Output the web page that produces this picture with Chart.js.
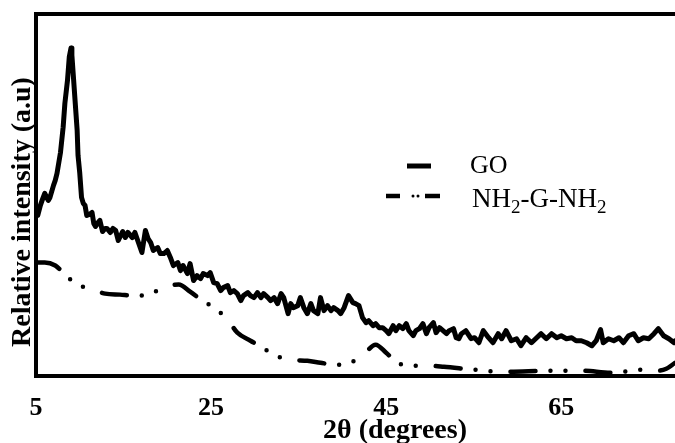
<!DOCTYPE html>
<html>
<head>
<meta charset="utf-8">
<script src="https://cdn.jsdelivr.net/npm/chart.js@4.4.1/dist/chart.umd.min.js"></script>
<style>
html,body{margin:0;padding:0;background:#fff;}
canvas{display:block;}
</style>
</head>
<body>
<canvas id="xrd" width="675" height="443"></canvas>
<script>
// axis text and series names
const xTicks = [5, 25, 45, 65];
const xTitle = '2θ (degrees)';
const yTitle = 'Relative intensity (a.u)';
const seriesNames = ['GO', 'NH₂-G-NH₂'];

// GO pattern (2θ, intensity a.u.)
const goX = [5.0,5.2,5.5,5.7,6.0,6.4,6.6,7.0,7.2,7.4,7.8,8.1,8.3,8.6,8.8,9.0,9.1,9.3,9.5,9.7,
  9.8,10.0,10.2,10.4,10.6,10.8,11.1,11.4,11.6,11.8,12.1,12.3,12.6,12.9,13.1,13.5,13.8,14.1,14.4,14.9,
  15.2,15.5,16.0,16.3,16.7,17.1,17.5,17.8,18.1,18.4,18.9,19.2,19.6,20.0,20.4,20.7,21.2,21.5,21.8,22.3,
  22.6,23.0,23.4,23.8,24.1,24.6,24.9,25.3,25.7,26.1,26.4,26.9,27.2,27.6,28.0,28.4,28.7,29.2,29.5,29.9,
  30.3,30.7,31.0,31.5,31.8,32.2,32.6,33.0,33.3,33.8,34.1,34.4,34.9,35.2,35.6,36.0,36.4,36.7,37.2,37.5,
  37.9,38.3,38.7,39.0,39.5,39.8,40.2,40.7,41.2,41.5,41.9,42.3,42.7,43.0,43.5,43.8,44.2,44.6,45.0,45.3,
  45.8,46.1,46.5,46.9,47.3,47.6,48.1,48.4,48.8,49.2,49.6,49.9,50.4,50.7,51.1,51.5,51.9,52.2,52.7,53.0,
  53.3,53.6,54.1,54.7,55.1,55.6,56.1,56.7,57.2,57.8,58.2,58.7,59.3,59.9,60.4,61.0,61.6,62.2,62.7,63.3,
  63.9,64.5,65.0,65.6,66.2,66.7,67.3,67.9,68.5,69.0,69.5,69.8,70.4,71.0,71.6,72.1,72.7,73.3,73.8,74.4,
  75.0,75.6,76.1,76.7,77.3,77.9,78.0];
const goY = [162,160,170,175,182,175,178,190,195,202,223,248,272,295,318,327,320,295,270,245,
  220,202,178,172,170,160,161,163,152,149,153,155,144,147,147,143,147,145,135,144,
  138,143,138,143,133,123,145,137,133,125,128,122,122,125,117,110,113,105,110,102,
  112,95,100,97,102,100,103,93,92,85,88,90,83,85,82,75,80,83,80,78,
  83,78,82,78,75,78,72,82,78,62,72,68,70,78,68,62,72,65,62,78,
  65,70,65,68,65,62,68,80,73,72,70,58,53,55,50,52,48,48,45,42,
  50,45,50,47,52,45,40,45,47,52,42,48,53,43,48,45,42,45,47,38,
  37,42,45,37,38,33,45,38,33,42,37,45,35,37,30,38,33,38,42,37,
  42,38,40,37,38,35,35,33,30,35,46,33,37,35,38,33,40,42,35,38,
  37,42,47,40,37,33,35];

// NH2-G-NH2 pattern
const nhX = [5.0,6.0,7.2,8.1,9.5,11.2,12.9,14.6,16.1,17.9,19.5,21.3,22.6,24.0,25.5,26.9,28.0,29.5,30.9,32.4,
  34.1,36.0,37.5,39.2,40.9,42.5,43.8,45.0,46.3,48.2,49.9,51.6,55.1,58.6,63.9,67.4,70.7,74.2,76.0,77.0,78.0];
const nhY = [113,113,110,103,92,87,82,81,80,81,88,91,84,75,67,56,43,35,28,20,
  16,15,13,11,13,22,31,23,13,10,10,9,6,4,5,5,3,6,5,7,13];

const serif = "'Liberation Serif', 'Times New Roman', serif";

function pairs(xs, ys){
  return xs.map((x, i) => ({x: x, y: ys[i]}));
}

// text with ₂ drawn as a small lowered 2
function drawRich(ctx, text, x, y, size){
  for(const ch of text){
    if(ch === '₂'){
      ctx.font = Math.round(size*0.7) + 'px ' + serif;
      ctx.fillText('2', x, y + size*0.22);
      x += ctx.measureText('2').width;
    } else {
      ctx.font = size + 'px ' + serif;
      ctx.fillText(ch, x, y);
      x += ctx.measureText(ch).width;
    }
  }
}

// axis titles and the legend box inside the plot
const overlay = {
  id: 'overlay',
  afterDraw(chart){
    const ctx = chart.ctx;
    ctx.save();
    ctx.fillStyle = '#000';
    ctx.strokeStyle = '#000';
    ctx.font = 'bold 28px ' + serif;
    ctx.textAlign = 'center';
    ctx.textBaseline = 'middle';
    ctx.fillText(xTitle, 395, 431);
    ctx.save();
    ctx.translate(23, 212);
    ctx.rotate(-Math.PI/2);
    ctx.fillText(yTitle, 0, 0);
    ctx.restore();

    ctx.textAlign = 'left';
    ctx.textBaseline = 'alphabetic';
    ctx.lineCap = 'butt';
    ctx.lineWidth = 5;
    ctx.beginPath(); ctx.moveTo(407, 166); ctx.lineTo(431, 166); ctx.stroke();
    drawRich(ctx, seriesNames[0], 470, 173, 26);

    ctx.lineWidth = 4.5;
    ctx.beginPath(); ctx.moveTo(386, 196); ctx.lineTo(400, 196); ctx.stroke();
    ctx.beginPath(); ctx.moveTo(425, 196); ctx.lineTo(440, 196); ctx.stroke();
    ctx.beginPath(); ctx.arc(413, 196, 1.5, 0, Math.PI*2); ctx.arc(418, 196, 1.5, 0, Math.PI*2); ctx.fill();
    drawRich(ctx, seriesNames[1], 472, 207, 27);
    ctx.restore();
  }
};

new Chart(document.getElementById('xrd'), {
  type: 'line',
  data: {
    datasets: [
      {label: seriesNames[0], data: pairs(goX, goY), borderColor: '#000', borderWidth: 5,
        pointRadius: 0, tension: 0, borderJoinStyle: 'round', borderCapStyle: 'round'},
      {label: seriesNames[1], data: pairs(nhX, nhY), borderColor: '#000', borderWidth: 4.5,
        pointRadius: 0, cubicInterpolationMode: 'monotone', borderCapStyle: 'round',
        borderDash: [25, 15, 0, 15, 0, 20]}
    ]
  },
  options: {
    responsive: false,
    animation: false,
    devicePixelRatio: 1,
    layout: {padding: {left: 36, top: 14, right: 0, bottom: 2}},
    plugins: {legend: {display: false}, tooltip: {enabled: false}},
    scales: {
      x: {
        type: 'linear', min: 5, max: 78,
        grid: {display: false, drawTicks: false},
        border: {display: true, color: '#000', width: 4},
        afterBuildTicks(s){ s.ticks = xTicks.map(v => ({value: v})); },
        afterFit(s){ s.paddingLeft = 0; s.paddingRight = 0; },
        ticks: {color: '#000', padding: 17, maxRotation: 0, autoSkip: false,
          font: {family: serif, size: 26, weight: 'bold'}}
      },
      xTop: {
        type: 'linear', position: 'top', min: 5, max: 78,
        ticks: {display: false},
        grid: {display: false, drawTicks: false},
        border: {display: true, color: '#000', width: 4}
      },
      y: {
        min: 0, max: 361,
        ticks: {display: false},
        grid: {display: false, drawTicks: false},
        border: {display: true, color: '#000', width: 4}
      }
    }
  },
  plugins: [overlay]
});
</script>
</body>
</html>
